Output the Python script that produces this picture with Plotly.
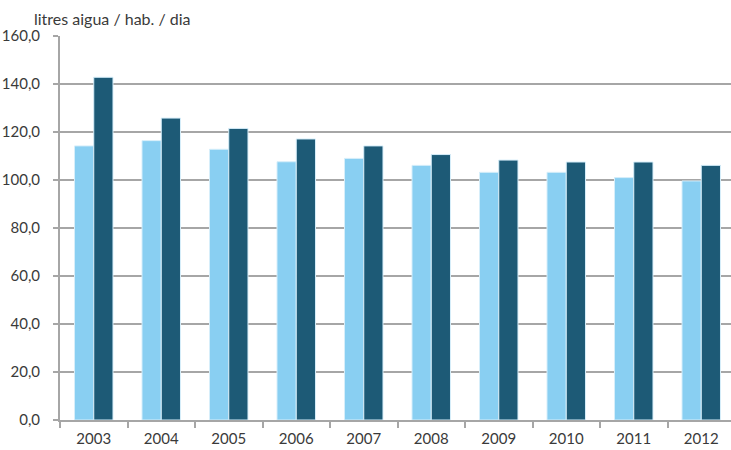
import plotly.graph_objects as go

years = ["2003", "2004", "2005", "2006", "2007", "2008", "2009", "2010", "2011", "2012"]
serie_a = [114.2, 116.4, 112.8, 107.6, 109.0, 106.1, 103.2, 103.2, 101.0, 99.6]
serie_b = [142.8, 125.8, 121.5, 117.1, 114.2, 110.6, 108.3, 107.5, 107.5, 106.1]
y_ticks = [0, 20, 40, 60, 80, 100, 120, 140, 160]
y_title = "litres aigua / hab. / dia"

font_family = "Lato, 'Open Sans', sans-serif"
grid_col = "#a6a6a6"
text_col = "#3a3a3a"

fig = go.Figure()
fig.add_trace(go.Bar(x=years, y=serie_a, name="A", marker=dict(color="#89cff2", line=dict(color="#d6eefa", width=1))))
fig.add_trace(go.Bar(x=years, y=serie_b, name="B", marker=dict(color="#1d5a76", line=dict(color="#d6eefa", width=1))))

fig.update_layout(
    width=735, height=450,
    margin=dict(l=60, r=0, t=36, b=30, pad=0),
    plot_bgcolor="white", paper_bgcolor="white",
    showlegend=False,
    barmode="group", bargap=0.43, bargroupgap=0,
    separators=", ",
    font=dict(family=font_family, size=15, color=text_col),
    xaxis=dict(
        type="category", showgrid=False, automargin=False,
        showline=True, linecolor=grid_col, linewidth=2,
        ticks="outside", tickson="boundaries", ticklen=6, tickcolor=grid_col, tickwidth=2,
        ticklabelstandoff=4,
        tickfont=dict(size=15, color=text_col),
    ),
    yaxis=dict(
        range=[0, 160], tickvals=y_ticks, tickformat=".1f", automargin=False,
        showgrid=True, gridcolor=grid_col, gridwidth=2,
        showline=True, linecolor=grid_col, linewidth=2,
        ticks="outside", ticklen=5, tickcolor=grid_col, tickwidth=2,
        ticklabelstandoff=10,
        tickfont=dict(size=15, color=text_col), zeroline=False,
    ),
    annotations=[dict(text=y_title, xref="paper", yref="paper", x=-0.042, y=1.0, yshift=18,
                      xanchor="left", yanchor="middle", showarrow=False,
                      font=dict(size=16, color=text_col))],
)

fig.write_html("out.html", config={"displayModeBar": False},
               post_script="document.body.style.margin='0';document.body.style.overflow='hidden';")
